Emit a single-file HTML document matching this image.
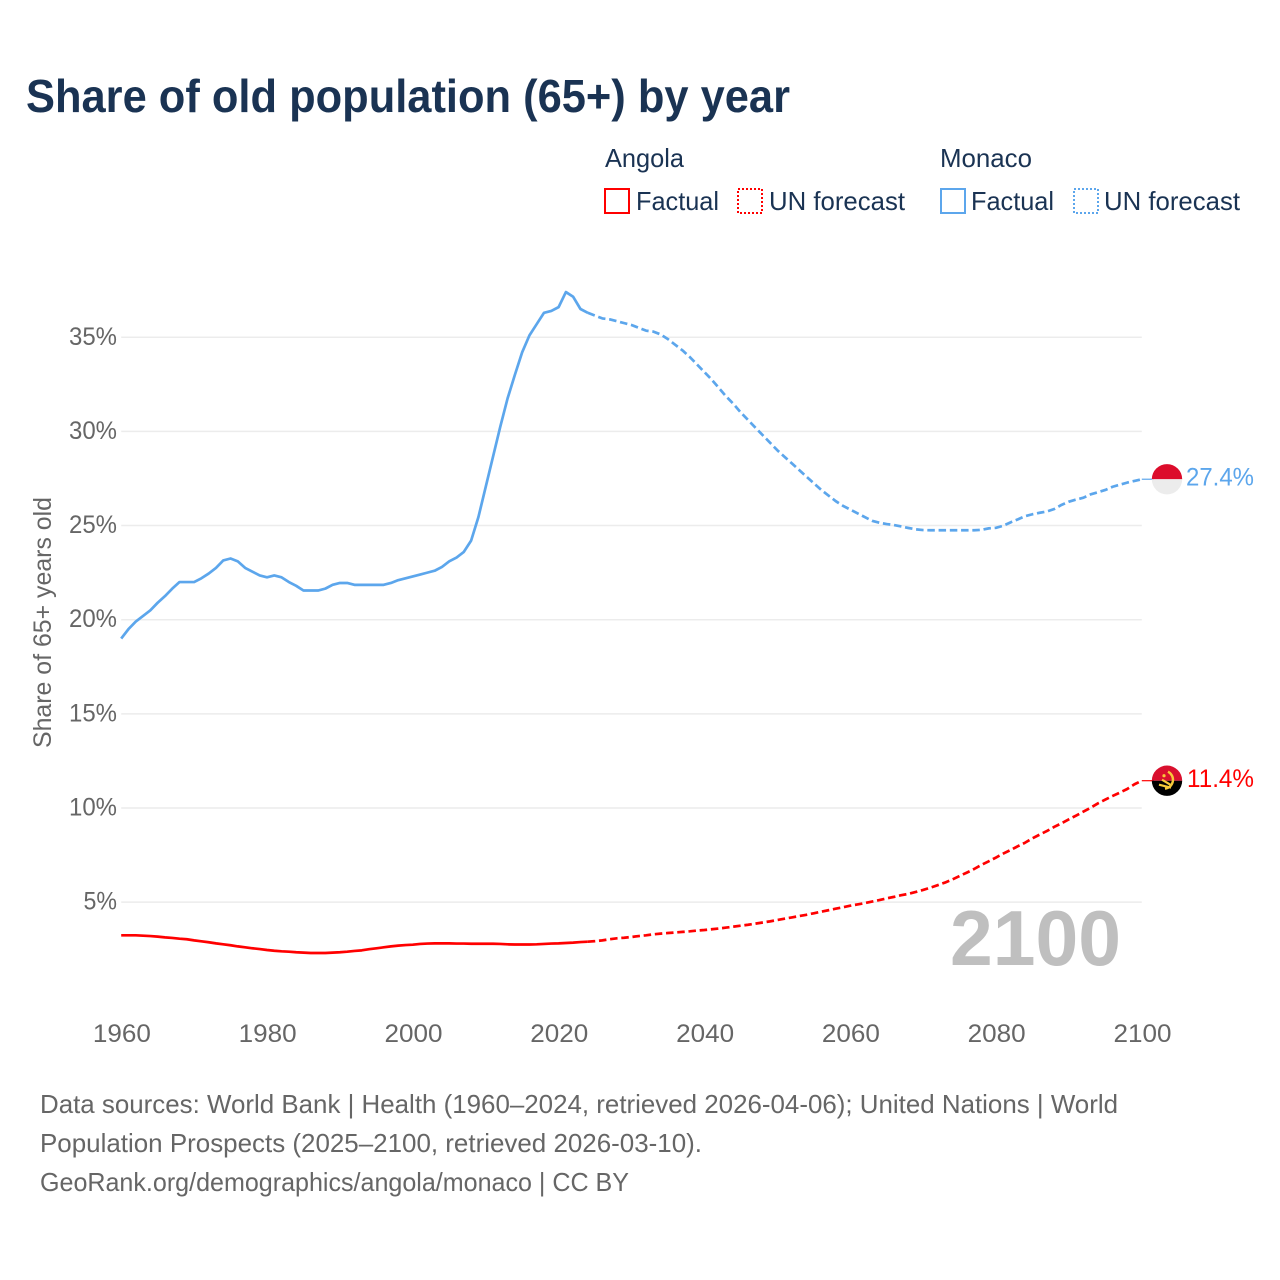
<!DOCTYPE html>
<html lang="en">
<head>
<meta charset="utf-8">
<title>Share of old population (65+) by year</title>
<style>
html,body{margin:0;padding:0;background:#fff;width:1280px;height:1280px;overflow:hidden}
svg{display:block}
text{font-family:"Liberation Sans",sans-serif}
</style>
</head>
<body>
<svg xmlns="http://www.w3.org/2000/svg" width="1280" height="1280" viewBox="0 0 1280 1280">
  <rect width="1280" height="1280" fill="#fff"/>
  <text x="26" y="112" font-size="46" font-weight="700" fill="#1a3353" textLength="764" lengthAdjust="spacingAndGlyphs">Share of old population (65+) by year</text>

  <g font-size="26" fill="#1a3353">
    <text x="605" y="167" textLength="79" lengthAdjust="spacingAndGlyphs">Angola</text>
    <rect x="605" y="189" width="24" height="24" fill="none" stroke="#ff0000" stroke-width="2"/>
    <text x="636" y="210" textLength="83" lengthAdjust="spacingAndGlyphs">Factual</text>
    <rect x="738" y="189" width="24" height="24" fill="none" stroke="#ff0000" stroke-width="2" stroke-dasharray="2 2"/>
    <text x="769" y="210" textLength="136" lengthAdjust="spacingAndGlyphs">UN forecast</text>
    <text x="940" y="167" textLength="92" lengthAdjust="spacingAndGlyphs">Monaco</text>
    <rect x="941" y="189" width="24" height="24" fill="none" stroke="#5ca6ec" stroke-width="2"/>
    <text x="971" y="210" textLength="83" lengthAdjust="spacingAndGlyphs">Factual</text>
    <rect x="1074" y="189" width="24" height="24" fill="none" stroke="#5ca6ec" stroke-width="2" stroke-dasharray="2 2"/>
    <text x="1104" y="210" textLength="136" lengthAdjust="spacingAndGlyphs">UN forecast</text>
  </g>

  <g id="grid"></g>
  <g id="yticks"></g>
  <g id="xticks"></g>
  <text transform="translate(51 748) rotate(-90)" font-size="25" fill="#666" textLength="251" lengthAdjust="spacingAndGlyphs">Share of 65+ years old</text>

  <text x="950" y="965" font-size="78" font-weight="700" fill="#bfbfbf" textLength="171" lengthAdjust="spacingAndGlyphs">2100</text>

  <g id="series"></g>
  <g id="flags"></g>

  <g font-size="26" fill="#666">
    <text x="40" y="1113" textLength="1078" lengthAdjust="spacingAndGlyphs">Data sources: World Bank | Health (1960–2024, retrieved 2026-04-06); United Nations | World</text>
    <text x="40" y="1152" textLength="662" lengthAdjust="spacingAndGlyphs">Population Prospects (2025–2100, retrieved 2026-03-10).</text>
    <text x="40" y="1191" textLength="589" lengthAdjust="spacingAndGlyphs">GeoRank.org/demographics/angola/monaco | CC BY</text>
  </g>
</svg>
<script>
const xTickYears = [1960, 1980, 2000, 2020, 2040, 2060, 2080, 2100];
const yTickValues = [5, 10, 15, 20, 25, 30, 35];
const firstYear = 1960;
const monacoFactual = [
  19.0,19.5,19.9,20.2,20.5,20.9,21.25,21.65,22.0,22.0,
  22.0,22.2,22.45,22.75,23.15,23.25,23.1,22.75,22.55,22.35,
  22.25,22.35,22.25,22.0,21.8,21.55,21.55,21.55,21.65,21.85,
  21.95,21.95,21.85,21.85,21.85,21.85,21.85,21.95,22.1,22.2,
  22.3,22.4,22.5,22.6,22.8,23.1,23.3,23.6,24.2,25.45,
  27.05,28.65,30.25,31.75,33.0,34.2,35.1,35.7,36.3,36.4,
  36.6,37.4,37.15,36.5,36.3
];
const monacoForecast = [
  36.15,36.0,35.95,35.85,35.75,35.65,35.5,35.35,35.3,35.15,34.9,34.6,34.3,33.95,33.55,
  33.15,32.75,32.3,31.85,31.45,31.0,30.6,30.2,29.8,29.4,
  29.0,28.65,28.3,27.95,27.6,27.25,26.9,26.6,26.3,26.05,
  25.85,25.65,25.45,25.25,25.15,25.08,25.03,24.95,24.87,24.8,
  24.76,24.75,24.75,24.75,24.75,24.75,24.75,24.75,24.77,24.85,
  24.88,24.99,25.17,25.33,25.5,25.6,25.68,25.75,25.88,26.1,
  26.27,26.38,26.48,26.66,26.77,26.89,27.06,27.17,27.28,27.37,27.46
];
const angolaFactual = [
  3.24,3.24,3.24,3.22,3.2,3.17,3.13,3.1,3.06,3.03,
  2.97,2.92,2.87,2.81,2.76,2.71,2.65,2.6,2.55,2.51,
  2.46,2.42,2.39,2.37,2.34,2.32,2.3,2.3,2.3,2.32,
  2.34,2.37,2.41,2.44,2.5,2.55,2.6,2.65,2.69,2.72,
  2.74,2.78,2.8,2.81,2.81,2.81,2.8,2.8,2.79,2.79,
  2.79,2.79,2.78,2.76,2.75,2.75,2.75,2.76,2.78,2.8,
  2.81,2.83,2.85,2.88,2.9
];
const angolaForecast = [
  2.93,2.97,3.03,3.08,3.11,3.15,3.2,3.24,3.29,3.33,
  3.36,3.39,3.42,3.45,3.49,3.52,3.56,3.6,3.65,3.7,
  3.75,3.8,3.86,3.92,3.98,4.05,4.12,4.19,4.26,4.33,
  4.41,4.49,4.57,4.65,4.73,4.81,4.88,4.95,5.03,5.11,
  5.2,5.28,5.37,5.44,5.54,5.65,5.77,5.9,6.04,6.2,
  6.39,6.57,6.76,6.98,7.17,7.37,7.58,7.77,7.97,8.16,
  8.39,8.59,8.78,9.0,9.19,9.4,9.6,9.81,10.02,10.25,
  10.45,10.64,10.82,11.01,11.26,11.45
];
const monacoEndLabel = "27.4%";
const angolaEndLabel = "11.4%";

const NS = "http://www.w3.org/2000/svg";
const xScale = yr => 121.2 + (yr - 1960) * 7.29;
const yScale = v => 996.3 - v * 18.83;
function make(tag, attrs, parent, txt) {
  const el = document.createElementNS(NS, tag);
  for (const k in attrs) el.setAttribute(k, attrs[k]);
  if (txt !== undefined) el.textContent = txt;
  parent.appendChild(el);
  return el;
}
const grid = document.getElementById("grid");
const yticks = document.getElementById("yticks");
yTickValues.forEach(v => {
  const line = make("line", {x1: xScale(1960), x2: xScale(2100), y1: yScale(v), y2: yScale(v), stroke: "#ececec", "stroke-width": 1.5}, grid);
  
  
  const s = v + "%";
  const t = make("text", {x: 117, y: yScale(v) + 7.5, "text-anchor": "end", "font-size": 25, fill: "#666", textLength: (s.length - 1) * 14.5 + 19, lengthAdjust: "spacingAndGlyphs"}, yticks, s);
  
  
});
const xticks = document.getElementById("xticks");
xTickYears.forEach(yr => {
  const t = make("text", {x: xScale(yr) + 0.7, y: 1042, "text-anchor": "middle", "font-size": 25, fill: "#666", textLength: 58, lengthAdjust: "spacingAndGlyphs"}, xticks, String(yr));
  
  
});
const seriesGroup = document.getElementById("series");
function pathFrom(values, startYear) {
  return values.map((v, i) => (i ? "L" : "M") + xScale(startYear + i).toFixed(2) + " " + yScale(v).toFixed(2)).join(" ");
}
function drawSeries(factual, forecast, color, nm) {
  const lastYear = firstYear + factual.length - 1;
  const solid = make("path", {d: pathFrom(factual, firstYear), fill: "none", stroke: color, "stroke-width": 2.7, "stroke-linejoin": "round"}, seriesGroup);
  
  
  const dashed = make("path", {d: pathFrom([factual[factual.length - 1]].concat(forecast), lastYear), fill: "none", stroke: color, "stroke-width": 2.7, "stroke-dasharray": "7.5 3.75", "stroke-linejoin": "round"}, seriesGroup);
  
  
  const endV = forecast[forecast.length - 1];
  const conn = make("line", {x1: xScale(2100), x2: 1154, y1: yScale(endV), y2: yScale(endV), stroke: color, "stroke-width": 1.2}, seriesGroup);
  
  
}
drawSeries(monacoFactual, monacoForecast, "#5ca6ec", "monaco");
drawSeries(angolaFactual, angolaForecast, "#ff0000", "angola");

const flags = document.getElementById("flags");
const CX = 1167, R = 15.2;
function halfDiscs(cy, topColor, bottomColor, parent) {
  make("path", {d: `M${CX-R} ${cy} A${R} ${R} 0 0 1 ${CX+R} ${cy} Z`, fill: topColor}, parent);
  make("path", {d: `M${CX-R} ${cy} A${R} ${R} 0 0 0 ${CX+R} ${cy} Z`, fill: bottomColor}, parent);
}
const mY = yScale(monacoForecast[monacoForecast.length - 1]);
const mFlag = make("g", {}, flags);


halfDiscs(mY, "#dc0c2b", "#ececec", mFlag);
const mLabel = make("text", {x: 1186, y: mY + 6.5, "font-size": 25, fill: "#5ca6ec", textLength: 68, lengthAdjust: "spacingAndGlyphs"}, flags, monacoEndLabel);



const aY = yScale(angolaForecast[angolaForecast.length - 1]);
const aFlag = make("g", {}, flags);


halfDiscs(aY, "#d9102e", "#000000", aFlag);
make("path", {d: `M${CX+1} ${aY-9} A9 9 0 0 1 ${CX-2} ${aY+8}`, fill: "none", stroke: "#f7c93a", "stroke-width": 2.4}, aFlag);
make("path", {d: `M${CX-8} ${aY+4} L${CX+4} ${aY+7} M${CX-5} ${aY-1} L${CX+5} ${aY+5}`, fill: "none", stroke: "#f7c93a", "stroke-width": 2.2}, aFlag);
make("circle", {cx: CX - 3, cy: aY - 5, r: 1.6, fill: "#f7c93a"}, aFlag);
const aLabel = make("text", {x: 1187, y: aY + 6.5, "font-size": 25, fill: "#ff0000", textLength: 67, lengthAdjust: "spacingAndGlyphs"}, flags, angolaEndLabel);


</script>
</body>
</html>
